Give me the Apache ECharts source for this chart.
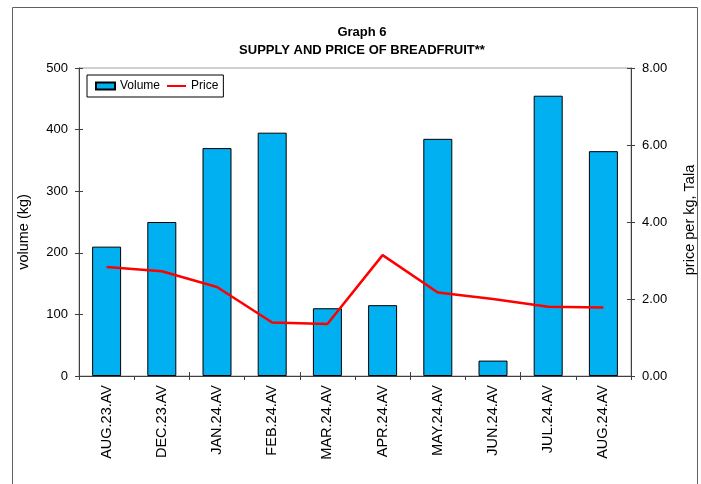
<!DOCTYPE html>
<html>
<head>
<meta charset="utf-8">
<script src="https://cdn.jsdelivr.net/npm/echarts@6/dist/echarts.min.js"></script>
<style>
  html, body { margin: 0; padding: 0; background: #fff; }
  #chart { width: 701px; height: 484px; }
</style>
</head>
<body>
<div id="chart"></div>
<script>
// data
var months = ['AUG.23.AV', 'DEC.23.AV', 'JAN.24.AV', 'FEB.24.AV', 'MAR.24.AV',
              'APR.24.AV', 'MAY.24.AV', 'JUN.24.AV', 'JUL.24.AV', 'AUG.24.AV'];
var volume = [210, 250, 370, 395, 110, 115, 385, 25, 455, 365];
var price = [2.83, 2.72, 2.31, 1.39, 1.35, 3.14, 2.17, 2.00, 1.80, 1.78];

var FONT = 'Liberation Sans, Arial, sans-serif';
var AXIS = '#404040';

var chart = echarts.init(document.getElementById('chart'));

var option = {
    animation: false,
    backgroundColor: '#fff',
    textStyle: { fontFamily: FONT },
    title: {
        text: 'Graph 6\nSUPPLY AND PRICE OF BREADFRUIT**',
        left: 357,
        top: 18,
        textAlign: 'center',
        textStyle: { fontSize: 13, fontWeight: 'bold', color: '#000', lineHeight: 18, fontFamily: FONT }
    },
    legend: {
        left: 87,
        top: 75,
        orient: 'horizontal',
        itemWidth: 19,
        itemHeight: 7,
        itemGap: 6,
        padding: [5, 5, 5, 8],
        borderColor: '#000',
        borderWidth: 1,
        textStyle: { fontSize: 12, color: '#000', fontFamily: FONT },
        data: [
            { name: 'Volume', icon: 'rect' },
            { name: 'Price', itemStyle: { opacity: 0 } }
        ]
    },
    grid: {
        left: 79,
        right: 70,
        top: 68,
        bottom: 108,
        show: true,
        borderColor: '#a0a0a0',
        borderWidth: 1
    },
    xAxis: [{
        type: 'category',
        data: months,
        axisLine: { lineStyle: { color: AXIS, width: 1 } },
        axisTick: { show: true, length: 4, lineStyle: { color: AXIS } },
        axisLabel: { rotate: 90, margin: 9, fontSize: 14.5, color: '#000', fontFamily: FONT, interval: 0 }
    }, {
        // inner half of the crossing ticks
        type: 'category',
        data: months,
        position: 'bottom',
        axisLine: { show: false },
        axisTick: { show: true, inside: true, length: 4, lineStyle: { color: AXIS } },
        axisLabel: { show: false }
    }],
    yAxis: [{
        type: 'value',
        position: 'left',
        min: 0, max: 500, interval: 100,
        axisLine: { show: true, lineStyle: { color: AXIS, width: 1 } },
        axisTick: { show: true, length: 4, lineStyle: { color: AXIS } },
        axisLabel: { margin: 11, fontSize: 13, color: '#000', fontFamily: FONT },
        splitLine: { show: false }
    }, {
        type: 'value',
        position: 'right',
        min: 0, max: 8, interval: 2,
        axisLine: { show: true, lineStyle: { color: AXIS, width: 1 } },
        axisTick: { show: true, length: 4, lineStyle: { color: AXIS } },
        axisLabel: {
            margin: 11, fontSize: 13, color: '#000', fontFamily: FONT,
            formatter: function (v) { return v.toFixed(2); }
        },
        splitLine: { show: false }
    }, {
        type: 'value',
        position: 'left',
        min: 0, max: 500, interval: 100,
        axisLine: { show: false },
        axisTick: { show: true, inside: true, length: 4, lineStyle: { color: AXIS } },
        axisLabel: { show: false },
        splitLine: { show: false }
    }, {
        type: 'value',
        position: 'right',
        min: 0, max: 8, interval: 2,
        axisLine: { show: false },
        axisTick: { show: true, inside: true, length: 4, lineStyle: { color: AXIS } },
        axisLabel: { show: false },
        splitLine: { show: false }
    }],
    graphic: [{
        type: 'rect',
        shape: { x: 12.5, y: 7.5, width: 685, height: 520 },
        style: { fill: 'none', stroke: '#606060', lineWidth: 1 },
        silent: true
    }, {
        type: 'text',
        x: 24, y: 232,
        rotation: Math.PI / 2,
        style: {
            text: 'volume (kg)', fontSize: 14.5, fontFamily: FONT, fill: '#000',
            textAlign: 'center', textVerticalAlign: 'middle'
        }
    }, {
        type: 'text',
        x: 690, y: 220,
        rotation: Math.PI / 2,
        style: {
            text: 'price per kg, Tala', fontSize: 14.5, fontFamily: FONT, fill: '#000',
            textAlign: 'center', textVerticalAlign: 'middle'
        }
    }],
    series: [{
        name: 'Volume',
        type: 'bar',
        xAxisIndex: 0,
        yAxisIndex: 0,
        data: volume,
        barWidth: 29,
        itemStyle: { color: '#00B0F0', borderColor: '#000', borderWidth: 1 }
    }, {
        name: 'Price',
        type: 'line',
        xAxisIndex: 0,
        yAxisIndex: 1,
        data: price,
        symbol: 'none',
        itemStyle: { color: '#FF0000' },
        lineStyle: { color: '#FF0000', width: 2.5 }
    }]
};

chart.setOption(option);
</script>
</body>
</html>
